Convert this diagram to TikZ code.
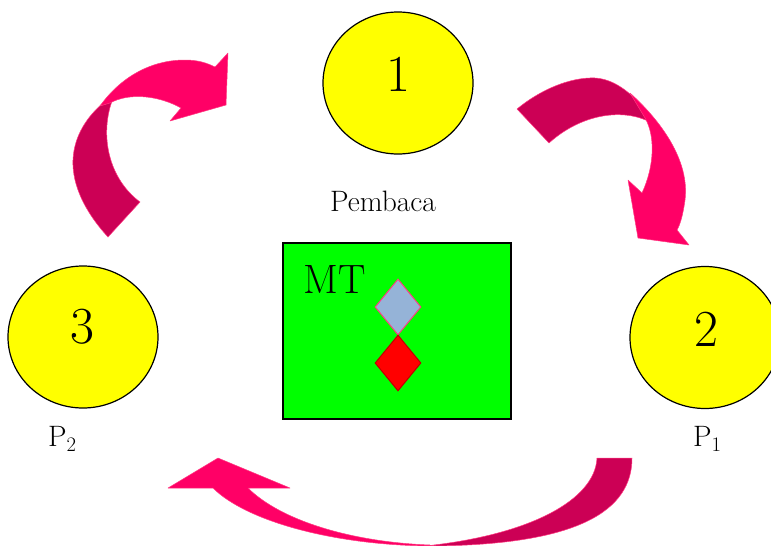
\documentclass[tikz,border=0pt]{standalone}
\usetikzlibrary{shapes.geometric}
\definecolor{brightpink}{RGB}{255,0,102}
\definecolor{darkpink}{RGB}{204,0,85}
\definecolor{pinkedge}{RGB}{255,60,130}
\definecolor{ylw}{RGB}{255,255,0}
\definecolor{grn}{RGB}{0,255,0}
\definecolor{bluegray}{RGB}{149,179,215}
\tikzset{
  bubble/.style={ellipse, draw=black, line width=1.2pt, fill=ylw, minimum width=150pt, minimum height=142pt, inner sep=0pt},
  digit/.style={anchor=base, inner sep=0pt, font=\rmfamily\fontsize{52}{52}\selectfont},
  lbl/.style={inner sep=0pt, font=\rmfamily\fontsize{29.5}{29.5}\selectfont},
  front/.style={fill=brightpink, draw=pinkedge, line width=0.5pt, line join=round},
  back/.style={fill=darkpink, draw=pinkedge, line width=0.5pt, line join=round},
  gem/.style={diamond, minimum width=46pt, minimum height=56pt, inner sep=0pt, aspect=0.82, line width=1pt}
}
\begin{document}
\begin{tikzpicture}[x=1pt,y=-1pt]
\useasboundingbox (0,0) rectangle (771,546);

% arrow top-left (3 -> 1)
\path[back] (108,237) .. controls (85,212) and (72,185) .. (73,160)
  .. controls (74,135) and (88,116) .. (103,103) -- (112,101)
  .. controls (100,135) and (108,178) .. (140,202) -- cycle;
\path[front] (100,106) .. controls (120,78) and (150,60) .. (185,60)
  .. controls (198,60) and (207,63) .. (215,67) -- (228,53) -- (226,105)
  -- (170,121) -- (181,108) .. controls (160,96) and (130,92) .. (110,103) -- cycle;

% arrow top-right (1 -> 2)
\path[back] (517,109) .. controls (540,90) and (570,77) .. (595,78)
  .. controls (615,79) and (635,95) .. (648,115) -- (648,121)
  .. controls (620,108) and (580,115) .. (549,143) -- cycle;
\path[front] (630,93) .. controls (660,120) and (690,160) .. (685,200)
  .. controls (683,215) and (680,225) .. (677,230) -- (689,245) -- (638,238)
  -- (628,180) -- (642,193) .. controls (655,165) and (655,135) .. (645,118) -- cycle;

% arrow bottom (2 -> 3)
\path[back] (597,458) -- (632,458) .. controls (632,510) and (580,546) .. (425,546)
  .. controls (530,535) and (595,500) .. (597,458) -- cycle;
\path[front] (430,546) .. controls (330,545) and (245,520) .. (213,488)
  -- (168,488) -- (218,458) -- (290,488) -- (248,488)
  .. controls (280,520) and (350,542) .. (430,545) -- cycle;

% circles
\node[bubble] (c1) at (398,83) {};
\node[bubble] (c3) at (83,337) {};
\node[bubble] (c2) at (705,337.5) {};
\node[digit] (d1) at (398,91.7) {1};
\node[digit] (d3) at (82,343.3) {3};
\node[digit] (d2) at (706,346) {2};

% labels
\node[lbl, anchor=base] (pembaca) at (383,211.7) {Pembaca};
\node[lbl, anchor=base west] (p2) at (48,446.7) {P\textsubscript{2}};
\node[lbl, anchor=base west] (p1) at (693,446.7) {P\textsubscript{1}};

% central box
\node[draw=black, line width=1.5pt, fill=grn, minimum width=228pt, minimum height=176pt, inner sep=0pt] (mt) at (397,331) {};
\node[anchor=base west, inner sep=0pt, font=\rmfamily\fontsize{41}{41}\selectfont] (mtlbl) at (303,293.3) {MT};
\node[gem, fill=bluegray, draw=pinkedge] (g1) at (398,307) {};
\node[gem, fill=red, draw=red!75!black] (g2) at (398,363) {};
\end{tikzpicture}
\end{document}
